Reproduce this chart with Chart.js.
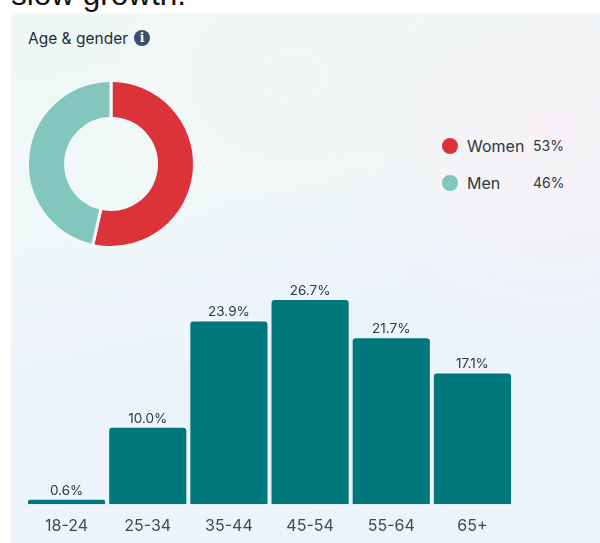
<!DOCTYPE html>
<html>
<head>
<meta charset="utf-8">
<script src="https://cdn.jsdelivr.net/npm/chart.js@4"></script>
<style>
    html, body { margin: 0; padding: 0; background: #fff; }
    body { position: relative; width: 600px; height: 543px; overflow: hidden; font-family: Inter, sans-serif; }
    #head { position: absolute; left: 11px; top: -24px; font: 31.5px/36px "Liberation Sans", Arial, sans-serif; color: #111; white-space: nowrap; }
    #panel {
        position: absolute; left: 11px; top: 13px; width: 589px; height: 530px;
        background:
            radial-gradient(ellipse 220px 200px at 92% 22%, rgba(247,241,246,.95), rgba(247,241,246,0)),
            radial-gradient(ellipse 200px 160px at 48% 12%, rgba(244,246,242,.7), rgba(244,246,242,0)),
            linear-gradient(168deg, #f0f8f7 0%, #f0f8f8 34%, #eef4fb 52%, #edf3fb 100%);
    }
    #title { position: absolute; left: 28px; top: 30px; font-size: 15.5px; line-height: 18px; color: #1f2d36; font-weight: 400; }
    #info {
        position: absolute; left: 134px; top: 30px; width: 16px; height: 16px; border-radius: 50%;
        background: #3c5068; color: #fff; font: bold 12px/16px "DejaVu Serif", serif; text-align: center;
    }
    #donut { position: absolute; left: 21px; top: 74px; }
    #bars { position: absolute; left: 25.5px; top: 270px; }
    .row { position: absolute; left: 442px; height: 20px; line-height: 20px; color: #2b3a42; }
    .dot { position: absolute; left: 0; top: 2px; width: 16px; height: 16px; border-radius: 50%; }
    .name { position: absolute; left: 25px; font-size: 16px; }
    .pct { position: absolute; left: 91px; font-size: 14px; }
</style>
</head>
<body>
<div id="head">slow growth.</div>
<div id="panel"></div>
<div id="title">Age &amp; gender</div>
<div id="info">i</div>
<canvas id="donut"></canvas>
<canvas id="bars"></canvas>

<script>
const genders      = ['Women', 'Men']
const genderValues = [53, 46]
const genderColors = ['#dc333b', '#82c6bd']

const ageGroups = ['18-24', '25-34', '35-44', '45-54', '55-64', '65+']
const ageValues = [0.6, 10.0, 23.9, 26.7, 21.7, 17.1]

const sizeCanvas = (el, w, h) => {
    el.style.width = w + 'px'
    el.style.height = h + 'px'
    el.width = w
    el.height = h
}

// ── Legend ────────────────────────────────────────────────────────────
const legendTops = [136, 173]
genders.forEach((g, i) => {
    const row = document.createElement('div')
    row.className = 'row'
    row.style.top = legendTops[i] + 'px'
    row.innerHTML = `<span class="dot" style="background:${genderColors[i]}"></span>` +
        `<span class="name">${g}</span><span class="pct">${genderValues[i]}%</span>`
    document.body.appendChild(row)
})

// ── Donut ─────────────────────────────────────────────────────────────
const ctxDonut = document.getElementById('donut')
sizeCanvas(ctxDonut, 180, 180)
new Chart(ctxDonut, {
    type: 'doughnut',
    data: {
        labels: genders,
        datasets: [{
            data: genderValues,
            backgroundColor: genderColors,
            borderColor: '#f0f8f8',
            borderWidth: 3,
            borderRadius: 2,
            hoverOffset: 0,
        }]
    },
    options: {
        responsive: false,
        animation: false,
        cutout: '54.5%',
        layout: { padding: 5 },
        plugins: { legend: { display: false }, tooltip: { enabled: false } }
    }
})

// ── Bar labels ────────────────────────────────────────────────────────
const barLabels = {
    id: 'barLabels',
    afterDatasetsDraw(chart) {
        const c = chart.ctx
        c.save()
        c.font = '13.5px Inter, sans-serif'
        c.fillStyle = '#2b3a42'
        c.textAlign = 'center'
        c.textBaseline = 'alphabetic'
        chart.getDatasetMeta(0).data.forEach((bar, i) => {
            c.fillText(ageValues[i].toFixed(1) + '%', bar.x, bar.y - 5)
        })
        c.restore()
    }
}

// ── Bars ──────────────────────────────────────────────────────────────
const ctxBars = document.getElementById('bars')
sizeCanvas(ctxBars, 487, 273)
new Chart(ctxBars, {
    type: 'bar',
    data: {
        labels: ageGroups,
        datasets: [{
            data: ageValues,
            backgroundColor: '#00777b',
            borderRadius: { topLeft: 3, topRight: 3 },
            borderSkipped: 'bottom',
            barPercentage: 1,
            categoryPercentage: 77 / 81,
        }]
    },
    plugins: [barLabels],
    options: {
        responsive: false,
        animation: false,
        layout: { padding: { top: 4.7, left: 0, right: 0, bottom: 0 } },
        plugins: { legend: { display: false }, tooltip: { enabled: false } },
        scales: {
            x: {
                grid: { display: false },
                border: { display: false },
                ticks: { color: '#3c4b55', font: { size: 16, family: 'Inter' }, padding: 4, maxRotation: 0 },
                afterFit: (s) => { s.height = 38.7 },
            },
            y: { display: false, min: 0, max: 30 },
        }
    }
})
</script>
</body>
</html>
